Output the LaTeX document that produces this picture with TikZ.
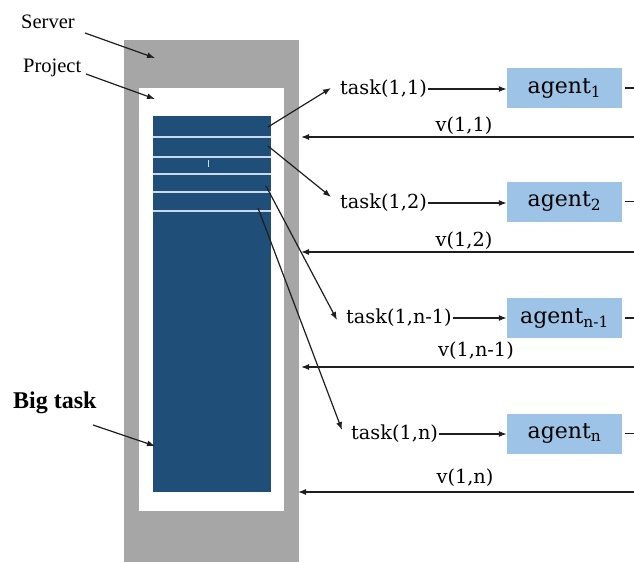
\documentclass[tikz,border=0pt]{standalone}
\usepackage{fontspec}
\setmainfont{Liberation Serif}
\newfontfamily\labfont{DejaVu Serif}
\usetikzlibrary{arrows.meta}
\definecolor{servergray}{RGB}{166,166,166}
\definecolor{taskblue}{RGB}{31,78,121}
\definecolor{sliceline}{RGB}{200,218,236}
\definecolor{agentfill}{RGB}{157,195,230}
\definecolor{ink}{RGB}{30,30,30}
\tikzset{
  conn/.style={draw=ink, line width=1.2pt, -{Latex[length=8pt,width=6pt]}},
  plain/.style={draw=ink, line width=1.2pt},
  lbl/.style={font=\fontsize{20.5}{24}\selectfont, inner sep=1pt},
  tasklbl/.style={font=\labfont\fontsize{19.3}{22}\selectfont, inner sep=1pt, anchor=west},
  retlbl/.style={font=\labfont\fontsize{19.3}{22}\selectfont, inner sep=1pt},
  agentbox/.style={fill=agentfill, minimum width=115pt, minimum height=40pt, inner sep=0pt,
    font=\labfont\fontsize{22}{24}\selectfont},
  slice/.style={draw=sliceline, line width=2pt}
}
\begin{document}
\begin{tikzpicture}[x=1pt,y=-1pt]
\useasboundingbox (0,0) rectangle (634,562);
% server, project and the big task
\node[fill=servergray, minimum width=175pt, minimum height=522pt, inner sep=0pt, anchor=north west] (server) at (124,40) {};
\node[fill=white, minimum width=145pt, minimum height=423pt, inner sep=0pt, anchor=north west] (project) at (139,88) {};
\node[fill=taskblue, minimum width=118pt, minimum height=376pt, inner sep=0pt, anchor=north west] (bigtask) at (153,116) {};
% slices of the big task
\foreach \y in {137,157,174,192,211}
  \draw[slice] (153,\y) -- (271,\y);
\draw[sliceline, line width=1pt] (208,160) -- (208,167);

% labels on the left
\node[lbl, anchor=base west] (lserver) at (20,28) {Server};
\node[lbl, anchor=base west] (lproject) at (22,72) {Project};
\node[font=\bfseries\fontsize{24}{28}\selectfont, inner sep=1pt, anchor=base west] (lbig) at (12,408) {Big task};
\coordinate (sv) at (155,58);
\coordinate (pj) at (155,99);
\coordinate (bt) at (155,446);
\draw[conn] (85,33) -- (sv);
\draw[conn] (86,74) -- (pj);
\draw[conn] (93,425) -- (bt);

% sub-tasks
\node[tasklbl] (t1) at (339,89) {task(1,1)};
\node[tasklbl] (t2) at (339,203) {task(1,2)};
\node[tasklbl] (t3) at (345,318) {task(1,n-1)};
\node[tasklbl] (t4) at (350,434) {task(1,n)};

\coordinate (s1) at (268,127);
\coordinate (s2) at (268,146);
\coordinate (s3) at (266,186);
\coordinate (s4) at (258,208);
\coordinate (e1) at (331,88);
\coordinate (e2) at (331,197);
\coordinate (e3) at (337,320);
\coordinate (e4) at (342,430);
\draw[conn] (s1) -- (e1);
\draw[conn] (s2) -- (e2);
\draw[conn] (s3) -- (e3);
\draw[conn] (s4) -- (e4);

% agents
\node[agentbox] (a1) at (564.5,88) {agent\textsubscript{1}};
\node[agentbox] (a2) at (564.5,201.5) {agent\textsubscript{2}};
\node[agentbox] (a3) at (564.5,318) {agent\textsubscript{n-1}};
\node[agentbox] (a4) at (564.5,433.5) {agent\textsubscript{n}};

\draw[conn] (t1.east) -- (a1.west |- t1.east);
\draw[conn] (t2.east) -- (a2.west |- t2.east);
\draw[conn] (t3.east) -- (a3.west |- t3.east);
\draw[conn] (t4.east) -- (a4.west |- t4.east);

\foreach \a in {a1,a2,a3,a4}
  \draw[plain] ([xshift=3pt]\a.east) -- ([xshift=12pt]\a.east);

% returned values
\coordinate (r1) at (634,137);
\coordinate (r2) at (634,252);
\coordinate (r3) at (634,367);
\coordinate (r4) at (634,492);
\coordinate (q1) at (301,137);
\coordinate (q2) at (301,252);
\coordinate (q3) at (301,367);
\coordinate (q4) at (298,492);
\draw[conn] (r1) -- (q1);
\draw[conn] (r2) -- (q2);
\draw[conn] (r3) -- (q3);
\draw[conn] (r4) -- (q4);
\node[retlbl] (v1) at (464,126) {v(1,1)};
\node[retlbl] (v2) at (464,241) {v(1,2)};
\node[retlbl] (v3) at (476,351) {v(1,n-1)};
\node[retlbl] (v4) at (465,478) {v(1,n)};
\end{tikzpicture}
\end{document}
